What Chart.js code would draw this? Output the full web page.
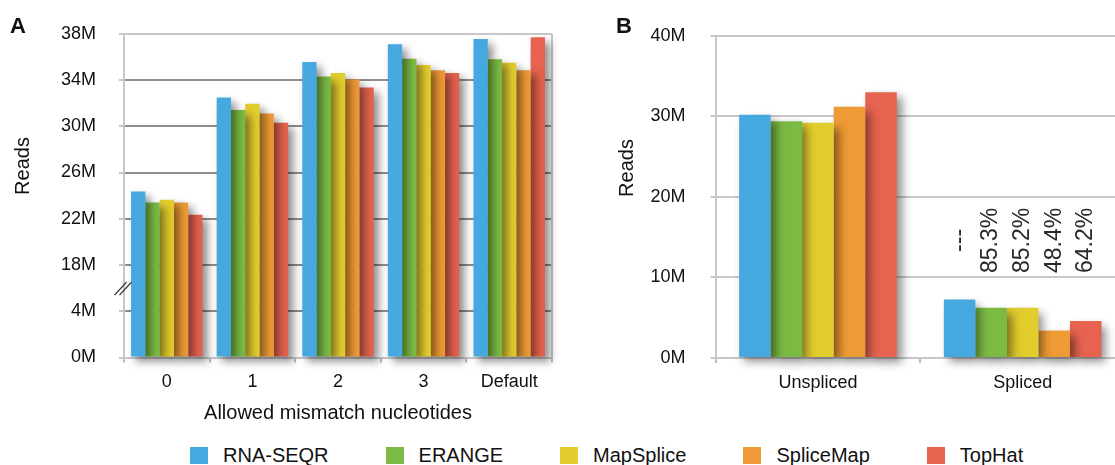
<!DOCTYPE html>
<html>
<head>
<meta charset="utf-8">
<script src="https://cdn.jsdelivr.net/npm/chart.js@4.4.1/dist/chart.umd.min.js"></script>
<style>
  html, body { margin: 0; padding: 0; background: #fff; }
  body { width: 1115px; height: 465px; overflow: hidden; position: relative; font-family: "Liberation Sans", Arial, sans-serif; }
  #wrapA { position: absolute; left: 0; top: 0; width: 560px; height: 430px; }
  #wrapB { position: absolute; left: 560px; top: 0; width: 575px; height: 430px; }
  .panel { position: absolute; font-weight: bold; font-size: 22px; line-height: 22px; color: #111; }
  #legend { position: absolute; left: 190px; top: 444px; display: flex; align-items: center; font-size: 20px; color: #111; }
  .item { display: flex; align-items: center; margin-right: 57px; }
  .box { width: 18px; height: 17px; margin-right: 15px; }
</style>
</head>
<body>
<div id="wrapA"><canvas id="chartA"></canvas></div>
<div id="wrapB"><canvas id="chartB"></canvas></div>
<div class="panel" style="left:10px;top:15px">A</div>
<div class="panel" style="left:616px;top:15px">B</div>
<div id="legend"></div>

<script>
// categories
const mismatchLabels = ["0", "1", "2", "3", "Default"];
const readTypes = ["Unspliced", "Spliced"];
const tools = ["RNA-SEQR", "ERANGE", "MapSplice", "SpliceMap", "TopHat"];
const toolColors = ["#45a8df", "#7bbb43", "#e2cd2e", "#ee9a35", "#e5634f"];

// panel A: mapped reads (millions) per allowed mismatches
const rnaseqrA   = [24.35, 32.5, 35.55, 37.1, 37.55];
const erangeA    = [23.4, 31.4, 34.3, 35.85, 35.8];
const mapspliceA = [23.65, 31.95, 34.6, 35.3, 35.5];
const splicemapA = [23.4, 31.1, 34.05, 34.85, 34.85];
const tophatA    = [22.35, 30.3, 33.35, 34.6, 37.7];

// panel B: unspliced / spliced reads (millions)
const rnaseqrB   = [30.2, 7.25];
const erangeB    = [29.4, 6.25];
const mapspliceB = [29.2, 6.25];
const splicemapB = [31.2, 3.4];
const tophatB    = [33.0, 4.6];
const splicedPct = ["---", "85.3%", "85.2%", "48.4%", "64.2%"];

// tick labels
const tickLabelsA = ["0M", "4M", "18M", "22M", "26M", "30M", "34M", "38M"];
const tickLabelsB = ["0M", "10M", "20M", "30M", "40M"];

const seriesA = [rnaseqrA, erangeA, mapspliceA, splicemapA, tophatA];
const seriesB = [rnaseqrB, erangeB, mapspliceB, splicemapB, tophatB];

// broken axis in A: 0-4M then 18M-38M, one tick step each
const toBroken = v => v >= 18 ? 2 + (v - 18) / 4 : v / 4;

const FONT = "'Liberation Sans', Arial, sans-serif";
Chart.defaults.font.family = FONT;
Chart.defaults.color = "#111";

const lightGrid = "#c8c8cc";

const barShadow = {
  id: "barShadow",
  beforeDatasetDraw(chart) {
    const c = chart.ctx;
    c.save();
    c.shadowColor = "rgba(0,0,0,0.45)";
    c.shadowBlur = 9;
    c.shadowOffsetX = 5;
    c.shadowOffsetY = 5;
  },
  afterDatasetDraw(chart) { chart.ctx.restore(); }
};

// y title drawn by hand, it sits above the axis middle in the figure
const yTitle = {
  id: "yTitle",
  afterDraw(chart, args, opts) {
    const c = chart.ctx;
    c.save();
    c.translate(opts.x, opts.y);
    c.rotate(-Math.PI / 2);
    c.font = "20px " + FONT;
    c.fillStyle = "#111";
    c.textAlign = "center";
    c.textBaseline = "middle";
    c.fillText(opts.text, 0, 0);
    c.restore();
  }
};

const axisBreak = {
  id: "axisBreak",
  afterDraw(chart) {
    const c = chart.ctx;
    const x = chart.chartArea.left;
    const y = chart.scales.y.getPixelForValue(1.5);
    c.save();
    c.strokeStyle = "#333";
    c.lineWidth = 1.4;
    [-2.5, 2.5].forEach(d => {
      c.beginPath();
      c.moveTo(x - 7 + d, y + 7);
      c.lineTo(x + 5 + d, y - 6);
      c.stroke();
    });
    c.restore();
  }
};

const pctLabels = {
  id: "pctLabels",
  afterDatasetsDraw(chart) {
    const c = chart.ctx;
    const y = chart.scales.y.getPixelForValue(14.6);
    c.save();
    c.font = "23px " + FONT;
    c.fillStyle = "#2a2a2a";
    c.textAlign = "center";
    c.textBaseline = "middle";
    chart.data.datasets.forEach((ds, i) => {
      const el = chart.getDatasetMeta(i).data[1];
      c.save();
      c.translate(el.x, y);
      c.rotate(-Math.PI / 2);
      c.fillText(splicedPct[i], 0, 0);
      c.restore();
    });
    c.restore();
  }
};

function makeDatasets(series, map) {
  return tools.map((t, i) => ({
    label: t,
    data: series[i].map(map),
    backgroundColor: toolColors[i],
    borderWidth: 0
  }));
}

new Chart(document.getElementById("chartA"), {
  type: "bar",
  data: { labels: mismatchLabels, datasets: makeDatasets(seriesA, toBroken) },
  options: {
    responsive: true, maintainAspectRatio: false, animation: false,
    layout: { padding: { left: 0, top: 24, right: 8, bottom: 0 } },
    datasets: { bar: { categoryPercentage: 0.835, barPercentage: 1, clip: false } },
    plugins: {
      legend: { display: false }, tooltip: { enabled: false },
      yTitle: { text: "Reads", x: 23, y: 166 }
    },
    scales: {
      y: {
        min: 0, max: 7,
        afterFit: s => { s.width = 124; },
        ticks: { stepSize: 1, callback: v => tickLabelsA[v], font: { size: 18 }, padding: 23 },
        grid: {
          color: c => (c.tick && (c.tick.value === 0 || c.tick.value === 7)) ? lightGrid : "#8e8e8e",
          lineWidth: 2, tickLength: 5, tickColor: lightGrid
        },
        border: { color: lightGrid, width: 2 }
      },
      x: {
        afterFit: s => { s.height = 72.5; },
        ticks: { font: { size: 18 }, padding: 9 },
        grid: {
          offset: true,
          color: c => c.type === "scale" ? lightGrid : "rgba(0,0,0,0)",
          lineWidth: 2, tickLength: 5, tickColor: "#bdbdc1"
        },
        border: { color: lightGrid, width: 2 },
        title: { display: true, text: "Allowed mismatch nucleotides", font: { size: 20 }, padding: { top: 0, bottom: 5 } }
      }
    }
  },
  plugins: [barShadow, yTitle, axisBreak]
});

new Chart(document.getElementById("chartB"), {
  type: "bar",
  data: { labels: readTypes, datasets: makeDatasets(seriesB, v => v) },
  options: {
    responsive: true, maintainAspectRatio: false, animation: false,
    layout: { padding: { left: 0, top: 24, right: 10, bottom: 0 } },
    datasets: { bar: { categoryPercentage: 0.77, barPercentage: 1, clip: false } },
    plugins: {
      legend: { display: false }, tooltip: { enabled: false },
      yTitle: { text: "Reads", x: 67, y: 168 }
    },
    scales: {
      y: {
        min: 0, max: 40,
        afterFit: s => { s.width = 155.6; },
        ticks: { stepSize: 10, callback: v => tickLabelsB[v / 10], font: { size: 18 }, padding: 25 },
        grid: { color: lightGrid, lineWidth: 2, tickLength: 5 },
        border: { color: lightGrid, width: 2 }
      },
      x: {
        afterFit: s => { s.height = 72; },
        ticks: { font: { size: 18 }, padding: 9 },
        grid: { offset: true, color: "rgba(0,0,0,0)", lineWidth: 2, tickLength: 5, tickColor: "#bdbdc1" },
        border: { color: lightGrid, width: 2 }
      }
    }
  },
  plugins: [barShadow, yTitle, pctLabels]
});

// shared legend under both panels
const legendEl = document.getElementById("legend");
tools.forEach((t, i) => {
  const item = document.createElement("div");
  item.className = "item";
  item.innerHTML = `<span class="box" style="background:${toolColors[i]}"></span><span>${t}</span>`;
  legendEl.appendChild(item);
});
</script>
</body>
</html>
